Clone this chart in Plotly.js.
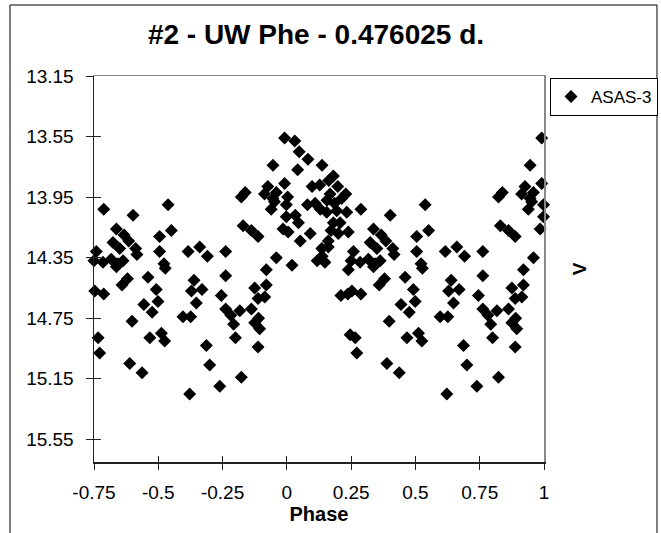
<!DOCTYPE html>
<html>
<head>
<meta charset="utf-8">
<script src="https://cdn.plot.ly/plotly-3.0.1.min.js"></script>
<style>html,body{margin:0;padding:0;background:#fff;}#chart{width:661px;height:533px;}</style>
</head>
<body>
<div id="chart"></div>
<script>
// Phase-folded observations, phase in [0, 1)
const phase = [
  0.031, 0.048, 0.082, 0.137, 0.042, 0.181, 0.163, 0.098, 0.128, 0.198,
  0.229, 0.003, 0.080, 0.110, 0.156, 0.168, 0.213, 0.130, 0.185, 0.033,
  0.045, 0.155, 0.194, 0.233, 0.207, 0.181, 0.172, 0.200, 0.239, 0.161,
  0.005, 0.052, 0.091, 0.136, 0.161, 0.137, 0.020, 0.118, 0.148, 0.239,
  0.210, 0.237, 0.246,
  0.250, 0.253, 0.259, 0.266, 0.272, 0.285, 0.288, 0.288, 0.317, 0.324,
  0.337, 0.337, 0.343, 0.350, 0.359, 0.363, 0.367, 0.380, 0.385, 0.389,
  0.398, 0.402, 0.412, 0.417, 0.437, 0.444, 0.460, 0.467, 0.476, 0.492,
  0.499, 0.505, 0.505, 0.512, 0.522, 0.525, 0.527, 0.538, 0.551, 0.596,
  0.616, 0.622, 0.626, 0.629, 0.639, 0.648, 0.661, 0.670, 0.687, 0.691,
  0.700, 0.739, 0.745, 0.762, 0.762, 0.762, 0.782, 0.793, 0.800, 0.817,
  0.823, 0.823, 0.830, 0.838, 0.862, 0.862, 0.875, 0.875, 0.888, 0.888,
  0.888, 0.890, 0.894, 0.913, 0.914, 0.920, 0.920, 0.926, 0.939, 0.946,
  0.946, 0.952, 0.959, 0.959, 0.985, 0.991, 0.991, 0.998, 0.998
];
const vmag = [
  13.58, 13.65, 13.70, 13.74, 13.77, 13.81, 13.84, 13.88, 13.87, 13.88,
  13.93, 13.95, 14.00, 13.99, 13.97, 13.93, 13.96, 14.03, 13.99, 14.07,
  14.12, 14.05, 14.04, 14.05, 14.12, 14.12, 14.17, 14.19, 14.18, 14.24,
  14.18, 14.24, 14.19, 14.29, 14.28, 14.34, 14.40, 14.37, 14.38, 14.43,
  14.60, 14.59, 14.86,
  14.37, 14.57, 14.31, 14.88, 14.98, 14.38, 14.03, 14.59, 14.36, 14.25,
  14.16, 14.41, 14.39, 14.29, 14.53, 14.37, 14.20, 14.49, 14.24, 15.05,
  14.77, 14.07, 14.29, 14.33, 15.11, 14.66, 14.48, 14.88, 14.71, 14.56,
  14.64, 14.21, 14.31, 14.85, 14.39, 14.90, 14.42, 14.00, 14.17, 14.74,
  14.31, 15.25, 14.74, 14.57, 14.50, 14.65, 14.28, 14.56, 14.93, 14.34,
  15.06, 15.20, 14.60, 14.31, 14.47, 14.69, 14.73, 14.79, 14.88, 14.70,
  13.95, 15.14, 14.14, 13.92, 14.17, 14.69, 14.55, 14.78, 14.21, 14.62,
  14.94, 14.75, 14.82, 13.93, 14.61, 14.43, 14.53, 13.88, 14.03, 13.74,
  13.96, 13.98, 13.92, 14.35, 14.16, 13.56, 13.86, 14.00, 14.08
];
const seriesName = 'ASAS-3';
const xTickVals = [-0.75, -0.5, -0.25, 0, 0.25, 0.5, 0.75, 1];
const xTickText = ['-0.75', '-0.5', '-0.25', '0', '0.25', '0.5', '0.75', '1'];
const yTickVals = [13.15, 13.55, 13.95, 14.35, 14.75, 15.15, 15.55];
const yTickText = ['13.15', '13.55', '13.95', '14.35', '14.75', '15.15', '15.55'];
const xRange = [-0.75, 1];
const yRange = [15.7, 13.15];

// Phases from 0.25 on are shown a second time one cycle earlier
const xs = [], ys = [];
for (let i = 0; i < phase.length; i++) {
  xs.push(phase[i]); ys.push(vmag[i]);
  if (phase[i] >= 0.25) { xs.push(phase[i] - 1); ys.push(vmag[i]); }
}

const FONT = 'Arial, "Liberation Sans", sans-serif';
const trace = {
  x: xs, y: ys, type: 'scatter', mode: 'markers', name: seriesName,
  marker: {symbol: 'diamond', size: 10, color: '#000', line: {width: 0}},
  cliponaxis: false, showlegend: true
};
const ghostX = {x: [], y: [], xaxis: 'x2', yaxis: 'y2', type: 'scatter', mode: 'markers', showlegend: false, hoverinfo: 'skip'};
const ghostY = {x: [], y: [], xaxis: 'x3', yaxis: 'y3', type: 'scatter', mode: 'markers', showlegend: false, hoverinfo: 'skip'};

const layout = {
  width: 661, height: 533,
  margin: {l: 94, r: 117, t: 76, b: 71, pad: 0, autoexpand: false},
  paper_bgcolor: '#fff', plot_bgcolor: '#fff',
  font: {family: FONT, color: '#000'},
  title: {text: '#2 - UW Phe - 0.476025 d.', font: {family: FONT, size: 28, weight: 'bold', color: '#000'},
          x: 0.478, xref: 'container', xanchor: 'center', y: 0.935, yref: 'container', yanchor: 'middle'},
  xaxis: {range: xRange, tickvals: xTickVals, ticktext: xTickText, showgrid: false, zeroline: false,
          showline: true, linecolor: '#222', linewidth: 1.5, ticks: 'outside', ticklen: 6, tickcolor: '#222', tickwidth: 1,
          tickfont: {family: FONT, size: 19, color: '#000'}, ticklabelstandoff: 7,
          title: {text: 'Phase', font: {family: FONT, size: 20, weight: 'bold', color: '#000'}, standoff: 0}},
  yaxis: {range: yRange, tickvals: yTickVals, ticktext: yTickText, showgrid: false, zeroline: false,
          showline: true, linecolor: '#222', linewidth: 1.5, ticks: 'outside', ticklen: 7, tickcolor: '#222', tickwidth: 1,
          tickfont: {family: FONT, size: 19, color: '#000'}, ticklabelstandoff: 8},
  xaxis2: {overlaying: 'x', anchor: 'y2', side: 'bottom', range: xRange, tickvals: xTickVals, showticklabels: false,
           ticks: 'inside', ticklen: 6, tickcolor: '#222', showgrid: false, zeroline: false, showline: false},
  yaxis2: {overlaying: 'y', anchor: 'x2', side: 'left', range: yRange, tickvals: yTickVals, showticklabels: false,
           ticks: 'inside', ticklen: 7, tickcolor: '#222', showgrid: false, zeroline: false, showline: false},
  xaxis3: {overlaying: 'x', anchor: 'y3', side: 'top', range: xRange, showticklabels: false, ticks: '',
           showgrid: false, zeroline: false, showline: true, linecolor: '#888', linewidth: 1.5},
  yaxis3: {overlaying: 'y', anchor: 'x3', side: 'right', range: yRange, showticklabels: false, ticks: '',
           showgrid: false, zeroline: false, showline: true, linecolor: '#888', linewidth: 1.5,
           title: {text: 'V', font: {family: FONT, size: 19, weight: 'bold', color: '#000'}, standoff: 28}},
  showlegend: true,
  legend: {x: 1.2533, xanchor: 'right', y: 0.995, yanchor: 'top', bordercolor: '#000', borderwidth: 1,
           bgcolor: '#fff', font: {family: FONT, size: 17, color: '#000'}, itemwidth: 30,
           tracegroupgap: 0},
  shapes: [
    {type: 'rect', xref: 'paper', yref: 'paper', x0: -0.18667, x1: 1.25111, y0: -0.215, y1: 1.18394,
     line: {color: '#000', width: 1}, fillcolor: 'rgba(0,0,0,0)', layer: 'below'}
  ]
};

Plotly.newPlot('chart', [trace, ghostX, ghostY], layout, {displayModeBar: false, staticPlot: true});
</script>
</body>
</html>
